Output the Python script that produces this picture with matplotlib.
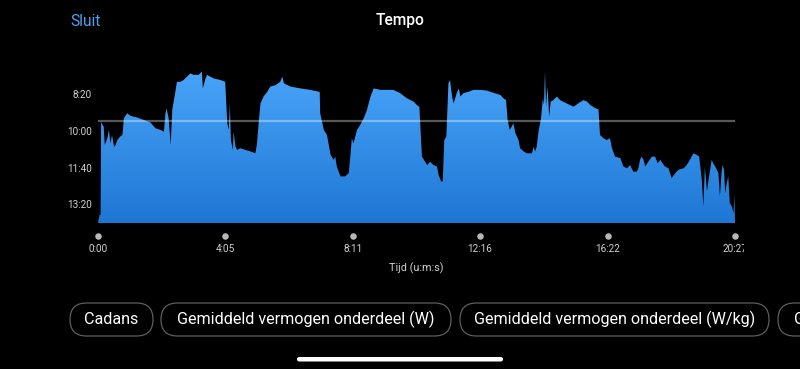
import numpy as np
import matplotlib
matplotlib.use("Agg")
import matplotlib.pyplot as plt
from matplotlib.colors import LinearSegmentedColormap
from matplotlib.patches import FancyBboxPatch, Rectangle

plt.rcParams['font.family'] = ['Roboto', 'DejaVu Sans']

# ---- data: elapsed time (s) and pace (s per km) ----
time_s = [0, 3, 5, 6, 9, 11, 13, 18, 21, 24, 27, 31, 34, 37, 43, 47, 50, 56, 63, 75, 88,
          101, 111, 120, 127, 130, 132, 136, 140, 143, 149, 152, 159, 165, 178, 184, 194,
          200, 202, 207, 210, 223, 236, 245, 249, 252, 254, 256, 260, 261, 265, 268, 274,
          284, 294, 303, 306, 310, 313, 319, 326, 332, 342, 351, 355, 358, 371, 390, 409,
          425, 427, 428, 435, 441, 444, 448, 454, 457, 460, 467, 476, 483, 486, 489, 492,
          499, 505, 512, 518, 525, 531, 544, 569, 582, 595, 608, 614, 619, 624, 630, 634,
          640, 646, 653, 656, 661, 664, 667, 671, 675, 678, 682, 685, 691, 695, 698, 704,
          714, 723, 736, 749, 762, 775, 781, 786, 789, 793, 797, 800, 804, 810, 813, 820,
          826, 836, 839, 842, 845, 849, 853, 857, 859, 861, 863, 866, 869, 872, 877, 884,
          890, 903, 916, 925, 935, 942, 948, 958, 964, 967, 974, 980, 986, 990, 996, 1006,
          1012, 1019, 1025, 1031, 1038, 1041, 1044, 1047, 1051, 1054, 1060, 1067, 1073,
          1078, 1083, 1092, 1099, 1105, 1112, 1118, 1128, 1134, 1140, 1147, 1153, 1158,
          1163, 1166, 1169, 1173, 1176, 1179, 1182, 1185, 1189, 1195, 1198, 1201, 1203,
          1206, 1208, 1211, 1214, 1217, 1221, 1224, 1226, 1227]
pace_s = [852, 829, 829, 575, 584, 588, 638, 620, 597, 634, 611, 643, 638, 625, 615, 611,
          565, 552, 559, 563, 570, 577, 593, 597, 602, 552, 538, 565, 638, 543, 493, 466,
          466, 461, 443, 447, 447, 438, 484, 457, 447, 457, 461, 466, 579, 597, 525, 625,
          652, 602, 643, 652, 647, 652, 656, 661, 638, 570, 525, 506, 493, 479, 475, 466,
          452, 470, 479, 484, 488, 493, 493, 552, 597, 611, 634, 665, 679, 670, 697, 724,
          724, 715, 670, 620, 634, 597, 584, 565, 543, 506, 484, 488, 488, 497, 511, 520,
          529, 534, 670, 684, 693, 684, 693, 697, 720, 738, 738, 625, 615, 470, 461, 506,
          525, 497, 484, 506, 497, 493, 488, 488, 490, 496, 502, 511, 516, 570, 597, 588,
          579, 606, 625, 647, 656, 661, 661, 643, 656, 643, 597, 570, 511, 529, 438, 534,
          479, 561, 520, 516, 506, 516, 525, 534, 525, 516, 520, 529, 538, 541, 611, 620,
          625, 620, 647, 670, 674, 697, 702, 693, 711, 711, 702, 679, 670, 679, 697, 684,
          670, 670, 688, 679, 697, 702, 729, 715, 706, 702, 693, 679, 661, 665, 670, 734,
          806, 697, 765, 734, 706, 679, 688, 697, 715, 779, 715, 693, 706, 770, 743, 724,
          797, 806, 824, 774, 852]
avg_pace_s = 573
x_ticks = [0, 245, 491, 736, 982, 1227]
x_tick_labels = ["0:00", "4:05", "8:11", "12:16", "16:22", "20:27"]
y_ticks = [500, 600, 700, 800]
y_tick_labels = ["8:20", "10:00", "11:40", "13:20"]
chips = ["Cadans", "Gemiddeld vermogen onderdeel (W)",
         "Gemiddeld vermogen onderdeel (W/kg)", "Gemiddeld"]

W, H = 800, 369
fig = plt.figure(figsize=(W / 100, H / 100), dpi=100, facecolor="black")

# chart axes (pixel box: x 98..735, y 60..223.3)
ax = fig.add_axes([98 / W, (H - 223.3) / H, (735 - 98) / W, (223.3 - 60) / H])
ax.set_facecolor("black")
ax.set_xlim(0, 1227)
ax.set_ylim(852, 406.5)
for s in ax.spines.values():
    s.set_visible(False)

poly = ax.fill_between(time_s, pace_s, 852, color="none", lw=0)
cmap = LinearSegmentedColormap.from_list("g", ["#4aa6fa", "#1f77d4"])
grad = np.linspace(0, 1, 256).reshape(-1, 1)
im = ax.imshow(grad, extent=[0, 1227, 852, 420], origin="upper", aspect="auto",
               cmap=cmap, zorder=1)
im.set_clip_path(poly.get_paths()[0], transform=ax.transData)

ax.plot([0, 1227], [avg_pace_s, avg_pace_s], color="white", alpha=0.35, lw=1.6, zorder=3)

ax.set_yticks(y_ticks)
ax.set_yticklabels(y_tick_labels)
ax.tick_params(axis="y", length=0, pad=4.5, labelsize=7.2, labelcolor="#d0d0d0")
ax.set_xticks([])
ax.scatter(x_ticks, [-0.078] * len(x_ticks), s=22, color="#b8b8b8",
           transform=ax.get_xaxis_transform(), clip_on=False, zorder=5, lw=0)
for xv, lab in zip(x_ticks, x_tick_labels):
    ax.text(xv, -0.157, lab, transform=ax.get_xaxis_transform(), ha="center",
            va="center", fontsize=7.2, color="#d0d0d0", clip_on=False)
ax.text(0.5, -0.275, "Tijd (u:m:s)", transform=ax.transAxes, ha="center",
        va="center", color="#d0d0d0", fontsize=7.8)

# overlay in pixel coordinates for UI elements
ov = fig.add_axes([0, 0, 1, 1], facecolor="none")
ov.set_xlim(0, W)
ov.set_ylim(H, 0)
ov.axis("off")

# the last time label is cut off by the chart view in the original
ov.add_patch(Rectangle((743.5, 242), 20, 14, fc="black", ec="none", zorder=10))

ov.text(86, 21, "Sluit", color="#4ba3f2", fontsize=11.2, ha="center", va="center")
ov.text(400.5, 21, "Tempo", color="white", fontsize=11.2, fontweight="medium",
        ha="center", va="center")

pills = [(70, 153), (161, 451), (460, 769), (778, 900)]
for (x0, x1), label in zip(pills, chips):
    p = FancyBboxPatch((x0, 303), x1 - x0, 33, boxstyle="round,pad=0,rounding_size=16.5",
                       fc="black", ec="#5e5e5e", lw=0.9, mutation_aspect=1)
    ov.add_patch(p)
    if x1 < W:
        ov.text((x0 + x1) / 2, 319.5, label, color="white", fontsize=11.6,
                ha="center", va="center")
    else:
        ov.text(x0 + 16, 319.5, label, color="white", fontsize=11.6,
                ha="left", va="center", clip_on=True)

bar = FancyBboxPatch((297, 357), 206, 4.5, boxstyle="round,pad=0,rounding_size=2.2",
                     fc="white", ec="none")
ov.add_patch(bar)

fig.savefig("out.png", dpi=100, facecolor="black")
